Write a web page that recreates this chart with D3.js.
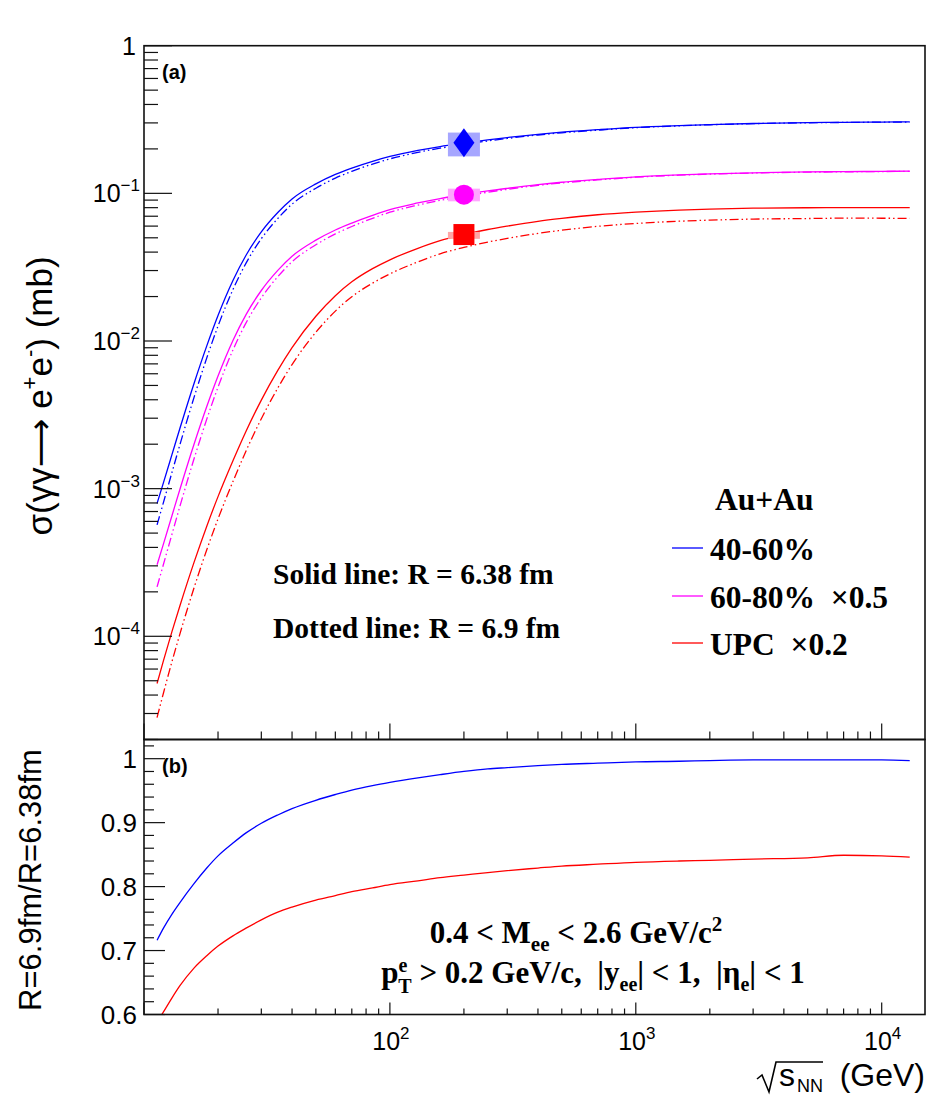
<!DOCTYPE html>
<html><head><meta charset="utf-8">
<script src="https://cdn.jsdelivr.net/npm/d3@7"></script>
<style>body{margin:0;background:#fff}svg{display:block}</style>
</head><body>
<script>
// ---------------- data ----------------
const energy = [11.3, 12, 13, 14, 16, 18, 20, 23, 26, 30, 35, 40, 50, 60, 70, 85, 100, 130, 160, 200, 250, 300, 400, 500, 700, 1000, 1500, 2000, 3000, 5000, 7000, 10000, 13000];
const sigmaBlue = [7.94e-4, 1.099e-3, 1.706e-3, 2.564e-3, 5.20e-3, 9.27e-3, 0.01489, 0.0257, 0.03811, 0.05483, 0.07413, 0.09162, 0.1159, 0.1343, 0.1483, 0.1648, 0.1778, 0.1954, 0.2075, 0.2188, 0.2301, 0.2388, 0.2512, 0.2594, 0.2698, 0.2799, 0.2877, 0.2924, 0.2972, 0.3013, 0.3027, 0.3041, 0.3048];
const sigmaMagenta = [3.05e-4, 4.23e-4, 6.58e-4, 9.91e-4, 2.014e-3, 3.597e-3, 5.79e-3, 0.01009, 0.0151, 0.02198, 0.03006, 0.0375, 0.04819, 0.05649, 0.06295, 0.07096, 0.07762, 0.0861, 0.09226, 0.09795, 0.1038, 0.1081, 0.1146, 0.1189, 0.1242, 0.1294, 0.1334, 0.1355, 0.1377, 0.1396, 0.1403, 0.1409, 0.1413];
const sigmaRed = [4.79e-5, 6.84e-5, 1.08e-4, 1.61e-4, 3.19e-4, 5.57e-4, 8.83e-4, 1.545e-3, 2.45e-3, 3.98e-3, 6.32e-3, 9.02e-3, 0.01472, 0.02028, 0.02518, 0.0309, 0.03548, 0.04246, 0.04786, 0.0526, 0.0569, 0.060, 0.0646, 0.0676, 0.0716, 0.0746, 0.0771, 0.0783, 0.0794, 0.0799, 0.080, 0.080, 0.080];
const ratioBlue = [0.716, 0.735, 0.757, 0.775, 0.805, 0.829, 0.848, 0.868, 0.884, 0.899, 0.912, 0.922, 0.935, 0.944, 0.951, 0.958, 0.963, 0.970, 0.975, 0.980, 0.984, 0.986, 0.989, 0.991, 0.993, 0.995, 0.996, 0.997, 0.998, 0.998, 0.998, 0.998, 0.997];
const ratioMagenta = [0.708, 0.727, 0.749, 0.767, 0.797, 0.822, 0.841, 0.862, 0.878, 0.893, 0.907, 0.917, 0.931, 0.940, 0.947, 0.955, 0.960, 0.967, 0.972, 0.977, 0.981, 0.984, 0.988, 0.990, 0.992, 0.994, 0.995, 0.996, 0.997, 0.997, 0.997, 0.997, 0.997];
const ratioRed = [0.588, 0.604, 0.626, 0.645, 0.673, 0.692, 0.707, 0.723, 0.735, 0.748, 0.760, 0.768, 0.779, 0.786, 0.792, 0.798, 0.803, 0.809, 0.814, 0.818, 0.822, 0.825, 0.829, 0.832, 0.835, 0.838, 0.840, 0.841, 0.843, 0.845, 0.849, 0.848, 0.846];
const markerE = [200, 200, 200];
const markerVal = [0.22, 0.098, 0.0526];
const markerLo = [0.178, 0.0883, 0.0492];
const markerHi = [0.258, 0.1076, 0.0548];
const seriesNames = ["40-60%", "60-80%  \u00d70.5", "UPC  \u00d70.2"];
const seriesColors = ["#0000ff", "#ff00ff", "#ff0000"];
const boxColors = ["#a6a6ff", "#ffa6ff", "#ffa6a6"];
const xTickExp = [2, 3, 4];
const yTickExp = [-4, -3, -2, -1, 0];
const ratioTicks = [0.6, 0.7, 0.8, 0.9, 1.0];

// ---------------- layout ----------------
const W = 927, H = 1095;
const L = 144, R = 925, T1 = 45.7, B1 = 739.5, T2 = 739.5, B2 = 1014.5;
const svg = d3.select("body").append("svg").attr("width", W).attr("height", H);
const x = d3.scaleLog().domain([10, 15000]).range([L, R]);
const y1 = d3.scaleLog().domain([2e-5, 1]).range([B1, T1]);
const y2 = d3.scaleLinear().domain([0.6, 1.03]).range([B2, T2]);
const sans = "'Liberation Sans', Arial, Helvetica, sans-serif";
const serif = "'Liberation Serif', 'Times New Roman', serif";
const axisCol = "#111";

const defs = svg.append("defs");
defs.append("clipPath").attr("id", "c1").append("rect").attr("x", L).attr("y", T1).attr("width", R - L).attr("height", B1 - T1);
defs.append("clipPath").attr("id", "c2").append("rect").attr("x", L).attr("y", T2).attr("width", R - L).attr("height", B2 - T2);

// ---------------- top panel curves ----------------
const g1 = svg.append("g").attr("clip-path", "url(#c1)");
const line1 = d3.line().x(d => x(d[0])).y(d => y1(d[1])).curve(d3.curveMonotoneX);
const solids = [sigmaBlue, sigmaMagenta, sigmaRed];
const ratios = [ratioBlue, ratioMagenta, ratioRed];
solids.forEach((s, i) => {
  g1.append("path").attr("d", line1(energy.map((e, k) => [e, s[k]])))
    .attr("fill", "none").attr("stroke", seriesColors[i]).attr("stroke-width", 1.3);
  g1.append("path").attr("d", line1(energy.map((e, k) => [e, s[k] * ratios[i][k]])))
    .attr("fill", "none").attr("stroke", seriesColors[i]).attr("stroke-width", 1.3)
    .attr("stroke-dasharray", "9,3,1.5,3,1.5,3");
});
markerE.forEach((e, i) => {
  const cx = x(e);
  g1.append("rect").attr("x", cx - 16).attr("width", 32)
    .attr("y", y1(markerHi[i])).attr("height", y1(markerLo[i]) - y1(markerHi[i]))
    .attr("fill", boxColors[i]);
});
{
  const cx = x(markerE[0]), cy = y1(markerVal[0]);
  g1.append("path").attr("d", `M${cx},${cy - 14.5}L${cx + 10.5},${cy}L${cx},${cy + 14.5}L${cx - 10.5},${cy}Z`).attr("fill", seriesColors[0]);
  g1.append("circle").attr("cx", x(markerE[1])).attr("cy", y1(markerVal[1])).attr("r", 10).attr("fill", seriesColors[1]);
  g1.append("rect").attr("x", x(markerE[2]) - 10.5).attr("y", y1(markerVal[2]) - 10.5).attr("width", 21).attr("height", 21).attr("fill", seriesColors[2]);
}

// ---------------- bottom panel curves ----------------
const g2 = svg.append("g").attr("clip-path", "url(#c2)");
const line2 = d3.line().x(d => x(d[0])).y(d => y2(d[1])).curve(d3.curveMonotoneX);
[[ratioBlue, 0], [ratioRed, 2]].forEach(([r, ci]) => {
  g2.append("path").attr("d", line2(energy.map((e, k) => [e, r[k]])))
    .attr("fill", "none").attr("stroke", seriesColors[ci]).attr("stroke-width", 1.3);
});

// ---------------- frames & ticks ----------------
const fr = svg.append("g").attr("fill", "none").attr("stroke", axisCol).attr("stroke-width", 1.6);
fr.append("rect").attr("x", L).attr("y", T1).attr("width", R - L).attr("height", B1 - T1);
fr.append("rect").attr("x", L).attr("y", T2).attr("width", R - L).attr("height", B2 - T2);

const tk = svg.append("g").attr("stroke", axisCol).attr("stroke-width", 1.2);
const xMinor = [], xMajor = [];
for (let p = 1; p <= 4; p++) for (let m = 1; m <= 9; m++) {
  const v = m * Math.pow(10, p);
  if (v < 10 || v > 15000) continue;
  if (m === 1) xMajor.push(v); else xMinor.push(v);
}
xMinor.forEach(v => {
  tk.append("line").attr("x1", x(v)).attr("x2", x(v)).attr("y1", B1).attr("y2", B1 - 8);
  tk.append("line").attr("x1", x(v)).attr("x2", x(v)).attr("y1", B2).attr("y2", B2 - 6);
});
xMajor.forEach(v => {
  tk.append("line").attr("x1", x(v)).attr("x2", x(v)).attr("y1", B1).attr("y2", B1 - 16);
  tk.append("line").attr("x1", x(v)).attr("x2", x(v)).attr("y1", B2).attr("y2", B2 - 12);
});
for (let p = -5; p <= 0; p++) for (let m = 1; m <= 9; m++) {
  const v = m * Math.pow(10, p);
  if (v < 2e-5 - 1e-12 || v > 1 + 1e-9) continue;
  const len = m === 1 ? 28 : 14;
  tk.append("line").attr("x1", L).attr("x2", L + len).attr("y1", y1(v)).attr("y2", y1(v));
}
d3.range(0, 22).map(k => 0.6 + k * 0.02).filter(v => v <= 1.031).forEach(v => {
  const major = Math.abs(v * 10 - Math.round(v * 10)) < 1e-6;
  tk.append("line").attr("x1", L).attr("x2", L + (major ? 21 : 10)).attr("y1", y2(v)).attr("y2", y2(v));
});

// ---------------- tick labels ----------------
const lab = svg.append("g").attr("font-family", sans).attr("fill", "#000");
yTickExp.forEach(p => {
  const t = lab.append("text").attr("x", 140).attr("y", y1(Math.pow(10, p)) + 9).attr("text-anchor", "end").attr("font-size", 25);
  if (p === 0) { t.attr("x", 136).text("1"); }
  else {
    t.append("tspan").text("10");
    t.append("tspan").attr("dy", -11).attr("font-size", 17).text("\u2212" + (-p));
  }
});
ratioTicks.forEach(v => {
  lab.append("text").attr("x", 137).attr("y", y2(v) + 9).attr("text-anchor", "end").attr("font-size", 26).text(d3.format(".1f")(v).replace(/\.0$/, ""));
});
xTickExp.forEach(p => {
  const t = lab.append("text").attr("x", x(Math.pow(10, p)) + 1).attr("y", 1049.5).attr("text-anchor", "middle").attr("font-size", 25);
  t.append("tspan").text("10");
  t.append("tspan").attr("dy", -11).attr("font-size", 17).text(String(p));
});

// ---------------- titles ----------------
{
  const t = svg.append("text").attr("font-family", sans).attr("font-size", 35)
    .attr("transform", "translate(52,396) rotate(-90)").attr("text-anchor", "middle").style("white-space", "pre");
  t.append("tspan").text("\u03c3(\u03b3\u03b3");
  t.append("tspan").attr("font-family", "'DejaVu Sans', sans-serif").attr("font-size", 34).text("\u27f6");
  t.append("tspan").text(" e");
  t.append("tspan").attr("dy", -15).attr("font-size", 22).text("+");
  t.append("tspan").attr("dy", 15).text("e");
  t.append("tspan").attr("dy", -15).attr("font-size", 22).text("-");
  t.append("tspan").attr("dy", 15).text(") (mb)");
}
svg.append("text").attr("font-family", sans).attr("font-size", 31)
  .attr("transform", "translate(41,880) rotate(-90)").attr("text-anchor", "middle")
  .text("R=6.9fm/R=6.38fm");
{
  const xt = svg.append("g").attr("font-family", sans).attr("fill", "#000");
  xt.append("text").attr("x", 779).attr("y", 1086).attr("font-size", 32).text("s");
  xt.append("text").attr("x", 797).attr("y", 1092).attr("font-size", 18).text("NN");
  xt.append("text").attr("x", 925).attr("y", 1086).attr("text-anchor", "end").attr("font-size", 32).text("(GeV)");
  xt.append("path").attr("d", "M757,1079 L762,1075 L769,1092 L776,1062 L823,1062")
    .attr("fill", "none").attr("stroke", "#000").attr("stroke-width", 1.6);
}

// ---------------- panel tags ----------------
svg.append("text").attr("x", 162).attr("y", 79).attr("font-family", sans).attr("font-weight", "bold").attr("font-size", 20).text("(a)");
svg.append("text").attr("x", 162).attr("y", 773).attr("font-family", sans).attr("font-weight", "bold").attr("font-size", 20).text("(b)");

// ---------------- annotations ----------------
const ann = svg.append("g").attr("font-family", serif).attr("font-weight", "bold").attr("fill", "#000");
ann.append("text").attr("x", 273).attr("y", 584).attr("font-size", 29.5).text("Solid line: R = 6.38 fm");
ann.append("text").attr("x", 273).attr("y", 638).attr("font-size", 29.5).text("Dotted line: R = 6.9 fm");

ann.append("text").attr("x", 715).attr("y", 510).attr("font-size", 31.5).text("Au+Au");
const legY = [548, 596, 643];
seriesNames.forEach((n, i) => {
  svg.append("line").attr("x1", 672).attr("x2", 703).attr("y1", legY[i]).attr("y2", legY[i]).attr("stroke", seriesColors[i]).attr("stroke-width", 1.3);
  ann.append("text").attr("x", 710).attr("y", legY[i] + 12).attr("font-size", 31.5).style("white-space", "pre").text(n);
});

{
  const t = ann.append("text").attr("x", 576).attr("y", 943).attr("text-anchor", "middle").attr("font-size", 31);
  t.append("tspan").text("0.4 < M");
  t.append("tspan").attr("dy", 8).attr("font-size", 21).text("ee");
  t.append("tspan").attr("dy", -8).text(" < 2.6 GeV/c");
  t.append("tspan").attr("dy", -12).attr("font-size", 21).text("2");
  const u = ann.append("text").attr("x", 593).attr("y", 983).attr("text-anchor", "middle").attr("font-size", 31).style("white-space", "pre");
  u.append("tspan").text("p");
  u.append("tspan").attr("dy", -11).attr("font-size", 20).text("e");
  u.append("tspan").attr("dx", -9).attr("dy", 21).attr("font-size", 20).text("T");
  u.append("tspan").attr("dy", -10).text(" > 0.2 GeV/c,  |y");
  u.append("tspan").attr("dy", 8).attr("font-size", 20).text("ee");
  u.append("tspan").attr("dy", -8).text("| < 1,  |\u03b7");
  u.append("tspan").attr("dy", 8).attr("font-size", 20).text("e");
  u.append("tspan").attr("dy", -8).text("| < 1");
}
</script>
</body></html>
